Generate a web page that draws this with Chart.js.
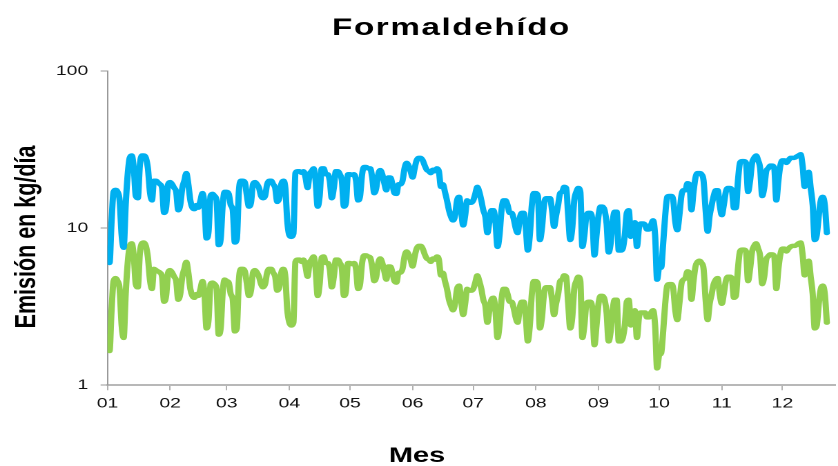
<!DOCTYPE html>
<html>
<head>
<meta charset="utf-8">
<script src="https://cdn.jsdelivr.net/npm/chart.js@4.4.1/dist/chart.umd.min.js"></script>
<style>
html,body{margin:0;padding:0;background:#fff;overflow:hidden;}
/* the reference is stretched sideways, so the chart is drawn narrow and scaled in x */
#wrap{position:absolute;left:0;top:0;width:607px;height:466px;transform:scaleX(1.3806);transform-origin:0 0;}
</style>
</head>
<body>
<div id="wrap"><canvas id="chart"></canvas></div>
<script>
const heading = "Formaldehído";
const xLabel = "Mes";
const yLabel = "Emisión en kg/día";

// day of year where each month starts, and its label
const monthStarts = [0,31,59,90,120,151,181,212,243,273,304,334];
const monthLabels = ["01","02","03","04","05","06","07","08","09","10","11","12"];
const yTicks = [1,10,100];

// daily emissions, one value per day from 1 Jan
const blueSeries = [
 7.5,6.0,11,17,17.5,17,15,
 9,7.5,14,22,28,29,24,
 16,15.5,25,29,29,28,24,
 17,15,20,20,19.5,19,18,
 12.5,13.5,19,19.6,19,18,17,
 13,14,18,20,22.4,19,15,
 13.5,13.2,14,13.5,15,16.7,14,
 8.6,9.5,16,16.5,16,15,7.8,
 8.5,14,17,17,16.5,14,13,
 8.1,8.5,17,20,20,19.5,16,
 13.7,14.5,19,19.6,19,18,16,
 15.5,16,19,20,20,19,18,
 14.7,15.5,19,20,18,11,9,
 8.8,9.2,22.4,23,23,22.5,23,
 21,18,22,23,24,20,13.7,
 16,24,24,22,22,20,15.5,
 18,23,23,22,20,13.7,14.5,
 22,22,21.8,22,20,15,16,
 22,24.5,24.5,24,24,21,16.7,
 18,22,23.4,22,19.3,17.4,21,
 21,19,16.7,16.5,19,19,20,
 24,26,25,23,21,24,27,
 28,28,27,25,23.5,23,22.4,
 23.5,23,24,23,18.3,19,17,
 15,13,11.8,11.2,12,15,15.8,
 13,10.4,12,15,14.5,14.5,15,
 16.5,18.3,17,15,13,11.8,9.3,
 11,13,13,11,7.6,9,13,
 15,15,14,12.5,12.5,11.5,10,
 9.3,11.5,12.5,12.5,10,7.2,9,
 14,16.7,16.7,16,8.4,10,14,
 15.5,15.5,15.5,13,10.2,12,14,
 16.7,17,18.3,18,12,8.4,10,
 15,17,18,17,7.6,9,12,
 12.5,12.5,11,6.7,9,12,13.7,
 13.7,13,10.7,7,8,11,12.7,
 12.7,7.2,7.2,7.4,9,12.5,13,
 8.8,10,10.9,7.6,10,10.7,10.7,
 10.5,9.8,9.8,10.5,11.2,9,4.7,
 5.6,5.6,8,12,15.8,16,16,
 15,11,9.7,12,16,17.4,17.4,
 19.3,19,13,17,21,22.4,22.4,
 22,20,13,9.5,12,14,16,
 17.4,17.4,14,12.1,14,17,18,
 18,17.5,13.4,13.4,20,26,26.7,
 26.7,26,17,20,26,28,29,
 27,24,16,18,23,24,25,
 25,24,15,20,25,27,27,
 26,27,28,28,28,28.5,29,
 29.5,25,18.3,21,22.8,18,14,
 8.4,9,12,15,15.8,14,9.3
];

const greenSeries = [
 2.05,1.65,3.0,4.6,4.8,4.6,4.1,
 2.4,2.0,3.8,6.0,7.7,8.0,6.6,
 4.4,4.2,6.9,8.0,8.1,7.7,6.5,
 4.7,4.1,5.5,5.4,5.3,5.2,4.9,
 3.4,3.7,5.2,5.4,5.2,4.9,4.6,
 3.5,3.8,4.9,5.5,6.1,5.2,4.1,
 3.7,3.6,3.8,3.7,4.1,4.6,3.8,
 2.3,2.6,4.4,4.5,4.4,4.1,2.1,
 2.3,3.9,4.7,4.6,4.5,3.8,3.5,
 2.2,2.3,4.6,5.5,5.5,5.3,4.4,
 3.7,4.0,5.2,5.4,5.2,4.9,4.4,
 4.2,4.4,5.2,5.5,5.5,5.2,4.9,
 4.0,4.2,5.2,5.5,4.9,3.0,2.5,
 2.4,2.5,6.1,6.3,6.3,6.1,6.3,
 5.7,4.9,6.0,6.3,6.6,5.5,3.7,
 4.4,6.5,6.6,6.0,6.0,5.5,4.2,
 4.9,6.3,6.3,6.0,5.5,3.7,4.0,
 6.0,6.0,5.9,6.0,5.5,4.1,4.4,
 6.0,6.7,6.7,6.6,6.5,5.7,4.6,
 4.9,6.0,6.4,6.0,5.3,4.7,5.7,
 5.7,5.2,4.6,4.5,5.2,5.2,5.5,
 6.6,7.1,6.8,6.3,5.7,6.6,7.4,
 7.7,7.7,7.4,6.8,6.4,6.3,6.1,
 6.4,6.3,6.6,6.3,5.0,5.2,4.6,
 4.1,3.5,3.2,3.0,3.3,4.1,4.3,
 3.5,2.8,3.3,4.1,4.0,4.0,4.1,
 4.5,5.0,4.6,4.1,3.5,3.2,2.5,
 3.0,3.5,3.6,3.0,2.0,2.4,3.5,
 4.1,4.1,3.8,3.4,3.4,3.1,2.7,
 2.5,3.1,3.4,3.4,2.7,1.9,2.4,
 3.8,4.6,4.6,4.4,2.3,2.7,3.8,
 4.2,4.2,4.2,3.5,2.8,3.3,3.8,
 4.6,4.7,5.0,4.9,3.3,2.3,2.7,
 4.1,4.6,4.9,4.6,2.0,2.4,3.3,
 3.4,3.4,3.0,1.8,2.4,3.3,3.7,
 3.7,3.5,2.9,1.9,2.2,3.0,3.5,
 3.5,1.9,1.9,2.0,2.4,3.4,3.5,
 2.4,2.7,3.0,2.0,2.7,2.9,2.9,
 2.9,2.7,2.7,2.9,3.0,2.4,1.28,
 1.55,1.6,2.2,3.3,4.3,4.4,4.4,
 4.1,3.0,2.6,3.3,4.4,4.7,4.8,
 5.3,5.2,3.5,4.6,5.7,6.1,6.2,
 6.0,5.5,3.5,2.6,3.3,3.8,4.4,
 4.7,4.8,3.8,3.3,3.8,4.6,4.9,
 4.9,4.8,3.6,3.7,5.5,7.1,7.3,
 7.3,7.1,4.6,5.5,7.1,7.7,8.0,
 7.4,6.6,4.4,4.9,6.3,6.6,6.8,
 6.8,6.6,4.1,5.5,6.8,7.4,7.4,
 7.1,7.4,7.6,7.7,7.7,7.8,8.0,
 8.1,6.8,5.0,5.7,6.2,4.9,3.8,
 2.3,2.4,3.3,4.1,4.3,3.8,2.5
];

const FONT = '"Liberation Sans", Arial, sans-serif';
Chart.defaults.font.family = FONT;

function points(vals){
    return vals.map((v,d)=>({x:d,y:v}));
}

function line(label,vals,color){
    return {
        label:label,
        data:points(vals),
        borderColor:color,
        borderWidth:4.5,
        borderJoinStyle:'round',
        borderCapStyle:'round',
        cubicInterpolationMode:'monotone',
        pointRadius:0,
        fill:false
    };
}

// title and axis names sit off-centre in the reference, so they are placed by hand
const labels = {
    id:'labels',
    afterDraw(chart){
        const ctx = chart.ctx;
        ctx.save();
        ctx.fillStyle = '#000';
        ctx.textAlign = 'center';
        ctx.textBaseline = 'alphabetic';
        ctx.font = 'bold 24px ' + FONT;
        ctx.letterSpacing = '1.2px';
        ctx.fillText(heading, 327, 35);
        ctx.letterSpacing = '0px';
        ctx.font = 'bold 21px ' + FONT;
        ctx.fillText(xLabel, 302, 462);
        ctx.translate(25.5, 237);
        ctx.rotate(-Math.PI/2);
        ctx.font = 'bold 21.5px ' + FONT;
        ctx.fillText(yLabel, 0, 0);
        ctx.restore();
    }
};

new Chart(document.getElementById('chart'),{
    type:'line',
    data:{
        datasets:[
            line('Serie 1',blueSeries,'#00B0F0'),
            line('Serie 2',greenSeries,'#92D050')
        ]
    },
    options:{
        responsive:true,
        maintainAspectRatio:false,
        animation:false,
        devicePixelRatio:2,
        layout:{padding:{top:71,bottom:49,left:31.5,right:0}},
        plugins:{legend:{display:false},tooltip:{enabled:false}},
        scales:{
            x:{
                type:'linear',
                min:0,max:360,
                afterBuildTicks:a=>{a.ticks = monthStarts.map(v=>({value:v}));},
                ticks:{
                    callback:(v,i)=>monthLabels[i],
                    autoSkip:false,maxRotation:0,padding:5,
                    color:'#111',font:{size:14}
                },
                grid:{drawOnChartArea:false,tickLength:5,color:'#b0b0b0'},
                border:{color:'#b8b8b8',width:2}
            },
            y:{
                type:'logarithmic',
                min:1,max:100,
                afterBuildTicks:a=>{a.ticks = yTicks.map(v=>({value:v}));},
                ticks:{
                    callback:v=>String(v),
                    padding:9,color:'#111',font:{size:14}
                },
                grid:{drawOnChartArea:false,tickLength:5,color:'#999999'},
                border:{color:'#999999',width:1}
            }
        }
    },
    plugins:[labels]
});
</script>
</body>
</html>
